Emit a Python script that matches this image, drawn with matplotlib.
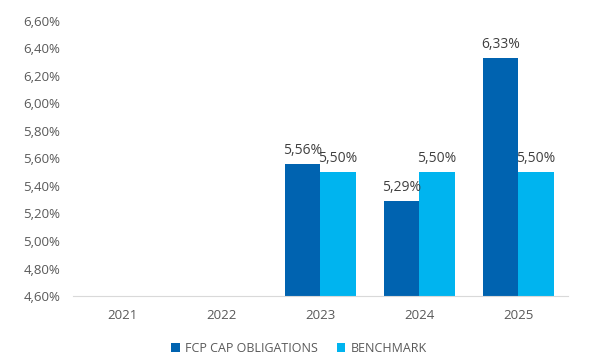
import numpy as np
import matplotlib.pyplot as plt
from matplotlib.ticker import FuncFormatter

plt.rcParams['font.family'] = ['Open Sans', 'DejaVu Sans']

years = ['2021', '2022', '2023', '2024', '2025']
fcp = [np.nan, np.nan, 5.56, 5.29, 6.33]
benchmark = [np.nan, np.nan, 5.50, 5.50, 5.50]

dark = '#0063B0'
light = '#00B4EF'
grey = '#404040'


def pct(v, pos=None):
    return f'{v:.2f}%'.replace('.', ',')


fig = plt.figure(figsize=(5.92, 3.61), dpi=100)
ax = fig.add_axes([0.123, 0.180, 0.836, 0.762])

x = np.arange(len(years))
w = 0.36
b1 = ax.bar(x - w / 2, np.nan_to_num(np.array(fcp) - 4.6), w, bottom=4.6,
            color=dark, label='FCP CAP OBLIGATIONS')
b2 = ax.bar(x + w / 2, np.nan_to_num(np.array(benchmark) - 4.6), w, bottom=4.6,
            color=light, label='BENCHMARK')

for xs, vals in ((x - w / 2, fcp), (x + w / 2, benchmark)):
    for xi, v in zip(xs, vals):
        if not np.isnan(v):
            ax.text(xi, v + 0.045, pct(v), ha='center', va='bottom',
                    fontsize=10, color=grey)

ax.set_xlim(-0.5, len(years) - 0.5)
ax.set_ylim(4.6, 6.6)
ax.set_yticks(np.arange(4.6, 6.61, 0.2))
ax.yaxis.set_major_formatter(FuncFormatter(pct))
ax.set_xticks(x)
ax.set_xticklabels(years)
ax.tick_params(axis='both', length=0, labelsize=9.5, labelcolor='#595959')
ax.tick_params(axis='y', pad=9)
ax.tick_params(axis='x', pad=9)

for s in ('top', 'right', 'left'):
    ax.spines[s].set_visible(False)
ax.spines['bottom'].set_color('#d9d9d9')

leg = fig.legend(handles=[b1, b2], loc='center', bbox_to_anchor=(0.505, 0.036),
                 ncol=2, frameon=False, fontsize=9, handlelength=0.7,
                 handleheight=0.7, columnspacing=1.5, handletextpad=0.4)
for t in leg.get_texts():
    t.set_color('#595959')

fig.savefig('out.png', dpi=100)
